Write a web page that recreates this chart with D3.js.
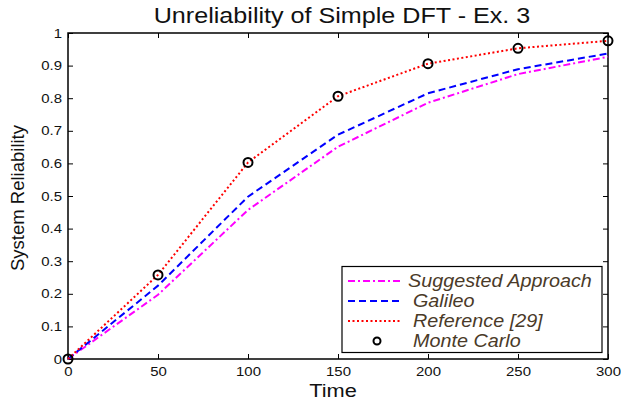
<!DOCTYPE html>
<html><head><meta charset="utf-8">
<script src="https://cdn.jsdelivr.net/npm/d3@7"></script>
<style>body{margin:0;background:#fff;} svg{display:block;}</style>
</head><body>
<div id="chart"></div>
<script>
const times = [0, 50, 100, 150, 200, 250, 300];
const suggested = [0, 0.197, 0.457, 0.651, 0.786, 0.874, 0.927];
const galileo = [0, 0.225, 0.498, 0.688, 0.815, 0.889, 0.937];
const reference29 = [0, 0.258, 0.603, 0.806, 0.906, 0.953, 0.976];
const monteCarlo = [0, 0.258, 0.603, 0.806, 0.906, 0.953, 0.976];
const xTicks = [0, 50, 100, 150, 200, 250, 300];
const yTicks = [0, 0.1, 0.2, 0.3, 0.4, 0.5, 0.6, 0.7, 0.8, 0.9, 1];
const legendLabels = ["Suggested Approach", "Galileo", "Reference [29]", "Monte Carlo"];

const W = 621, H = 402;
const L = 68, R = 608, T = 33, B = 359;
const SX = 1.15; // horizontal stretch of the reference's lettering
const svg = d3.select("#chart").append("svg").attr("width", W).attr("height", H)
  .style("font-family", "'Liberation Sans', Arial, sans-serif");
const x = d3.scaleLinear().domain([0, 300]).range([L, R]);
const y = d3.scaleLinear().domain([0, 1]).range([B, T]);

svg.append("rect").attr("x", L).attr("y", T).attr("width", R - L).attr("height", B - T)
  .attr("fill", "none").attr("stroke", "#000").attr("stroke-width", 1.5);

const fmt = d => d === 0 ? "0" : (d === 1 ? "1" : d3.format(".1f")(d));
const xAxis = d3.axisBottom(x).tickValues(xTicks).tickSizeInner(-5).tickSizeOuter(0).tickPadding(8).tickFormat(d3.format("d"));
const gx = svg.append("g").attr("transform", `translate(0,${B})`).call(xAxis);
const yAxis = d3.axisLeft(y).tickValues(yTicks).tickSizeInner(-5).tickSizeOuter(0).tickPadding(6).tickFormat(fmt);
const gy = svg.append("g").attr("transform", `translate(${L},0)`).call(yAxis);
const xTop = d3.axisTop(x).tickValues(xTicks).tickSizeInner(-5).tickSizeOuter(0).tickFormat("");
svg.append("g").attr("transform", `translate(0,${T})`).call(xTop);
const yRight = d3.axisRight(y).tickValues(yTicks).tickSizeInner(-5).tickSizeOuter(0).tickFormat("");
svg.append("g").attr("transform", `translate(${R},0)`).call(yRight);
svg.selectAll(".domain").remove();
svg.selectAll(".tick line").attr("stroke", "#000").attr("stroke-width", 1);
svg.selectAll(".tick text").attr("fill", "#111").style("font-size", "13px").style("font-family", "'Liberation Sans', Arial, sans-serif");
// stretch tick labels horizontally around their anchor
gx.selectAll(".tick text").attr("transform", `scale(${SX},1)`).attr("x", 0);
gy.selectAll(".tick text").each(function() {
  const t = d3.select(this); const tx = +t.attr("x");
  t.attr("x", tx / SX).attr("transform", `scale(${SX},1)`);
});

const line = d3.line().x((d, i) => x(times[i])).y(d => y(d));
const series = [
  {data: suggested, color: "#ff00ff", dash: "7,3,2,3"},
  {data: galileo, color: "#0000ff", dash: "7,4"},
  {data: reference29, color: "#ff0000", dash: "2,2.5"}
];
series.forEach(s => {
  svg.append("path").datum(s.data).attr("d", line).attr("fill", "none")
    .attr("stroke", s.color).attr("stroke-width", 2).attr("stroke-dasharray", s.dash);
});
svg.selectAll("circle.mc").data(monteCarlo).enter().append("circle").attr("class", "mc")
  .attr("cx", (d, i) => x(times[i])).attr("cy", d => y(d)).attr("r", 4.5)
  .attr("fill", "none").attr("stroke", "#000").attr("stroke-width", 2);

function stext(px, py, sx, size, str, anchor) {
  return svg.append("text").attr("transform", `translate(${px},${py}) scale(${sx},1)`)
    .attr("text-anchor", anchor || "middle").style("font-size", size + "px").attr("fill", "#111").text(str);
}
stext(342, 23, 1.17, 21.5, "Unreliability of Simple DFT - Ex. 3");
stext(333, 397, 1.18, 18.5, "Time");
svg.append("text").attr("transform", "translate(24,198) rotate(-90)").attr("text-anchor", "middle")
  .style("font-size", "18.5px").attr("fill", "#111").text("System Reliability");

const lg = svg.append("g");
lg.append("rect").attr("x", 342).attr("y", 266.5).attr("width", 260).attr("height", 86)
  .attr("fill", "#fff").attr("stroke", "#000").attr("stroke-width", 1.2);
const rows = [281, 301, 321, 341];
legendLabels.forEach((lab, i) => {
  if (i < 3) {
    lg.append("line").attr("x1", 348).attr("x2", 400).attr("y1", rows[i]).attr("y2", rows[i])
      .attr("stroke", series[i].color).attr("stroke-width", 2).attr("stroke-dasharray", series[i].dash);
  } else {
    lg.append("circle").attr("cx", 377).attr("cy", rows[i]).attr("r", 3.5)
      .attr("fill", "none").attr("stroke", "#000").attr("stroke-width", 2);
  }
  lg.append("text").attr("transform", `translate(${i === 0 ? 408 : 413},${rows[i] + 6}) scale(1.13,1)`)
    .style("font-size", "17.5px").style("font-style", "italic").attr("fill", "#4a3a28").text(lab);
});
</script>
</body></html>
